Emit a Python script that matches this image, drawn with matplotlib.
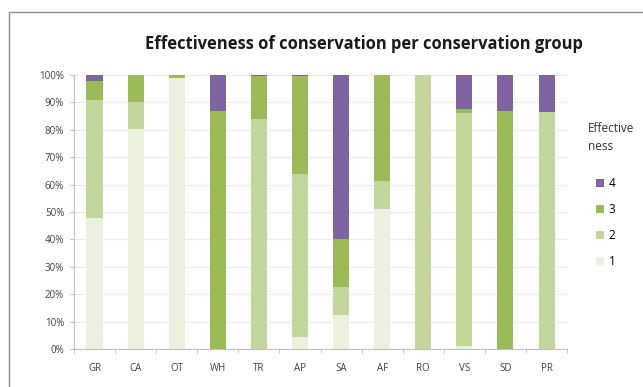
import numpy as np
import matplotlib.pyplot as plt
from matplotlib.patches import Rectangle

plt.rcParams['font.family'] = ['Open Sans', 'DejaVu Sans']

groups = ['GR', 'CA', 'OT', 'WH', 'TR', 'AP', 'SA', 'AF', 'RO', 'VS', 'SD', 'PR']
# share (%) of each effectiveness score per group
eff1 = [48, 80.5, 99, 0, 0, 4.5, 12.5, 51, 0, 1, 0, 0]
eff2 = [43, 9.5, 0, 0, 84, 59.5, 10, 10.5, 100, 85, 0, 86.5]
eff3 = [7, 10, 1, 87, 15.5, 35.5, 17.5, 38.5, 0, 1.5, 87, 0]
eff4 = [2, 0, 0, 13, 0.5, 0.5, 60, 0, 0, 12.5, 13, 13.5]

colors = {'1': '#ebf1de', '2': '#c3d69b', '3': '#9bbb59', '4': '#8064a2'}

fig = plt.figure(figsize=(6.43, 3.87), dpi=100)
ax = fig.add_axes([0.115, 0.098, 0.767, 0.708])

x = np.arange(len(groups))
bottom = np.zeros(len(groups))
handles = {}
for name, vals in [('1', eff1), ('2', eff2), ('3', eff3), ('4', eff4)]:
    vals = np.array(vals, dtype=float)
    handles[name] = ax.bar(x, vals, 0.39, bottom=bottom, color=colors[name], zorder=2)
    bottom += vals

ax.set_xlim(-0.5, len(groups) - 0.5)
ax.set_ylim(0, 100)
ax.set_yticks(np.arange(0, 101, 10))
ax.set_yticklabels([f'{v}%' for v in range(0, 101, 10)])
ax.set_xticks(x)
ax.set_xticklabels(groups)
ax.set_xticks(np.arange(-0.5, len(groups), 1), minor=True)
ax.yaxis.grid(True, color='#ececec', lw=0.8, zorder=0)
for s in ['top', 'right']:
    ax.spines[s].set_visible(False)
ax.spines['left'].set_color('#bfbfbf')
ax.spines['bottom'].set_color('#bfbfbf')
ax.tick_params(axis='y', length=3, color='#bfbfbf', labelsize=7, labelcolor='#404040', pad=4)
ax.tick_params(axis='x', which='major', length=0, labelsize=7, labelcolor='#404040', pad=10)
ax.tick_params(axis='x', which='minor', length=3, color='#bfbfbf')

fig.text(0.566, 0.886, 'Effectiveness of conservation per conservation group',
         ha='center', va='center', fontsize=11.9, fontweight='bold', color='#1a1a1a')

fig.text(0.914, 0.645, 'Effective\nness', ha='left', va='center', fontsize=8.5,
         color='#333333', linespacing=1.5)
leg = fig.legend([handles[k] for k in ['4', '3', '2', '1']], ['4', '3', '2', '1'],
                 loc='upper left', bbox_to_anchor=(0.91, 0.57), frameon=False,
                 fontsize=8.5, handlelength=0.7, handleheight=0.7, labelspacing=1.1,
                 handletextpad=0.4)

# chart frame
fig.patches.append(Rectangle((9 / 643, -0.1), 1.2, 1 - 12 / 387 + 0.1,
                             transform=fig.transFigure, fill=False,
                             edgecolor='#8c8c8c', lw=1.0))

fig.savefig('out.png', dpi=100)
